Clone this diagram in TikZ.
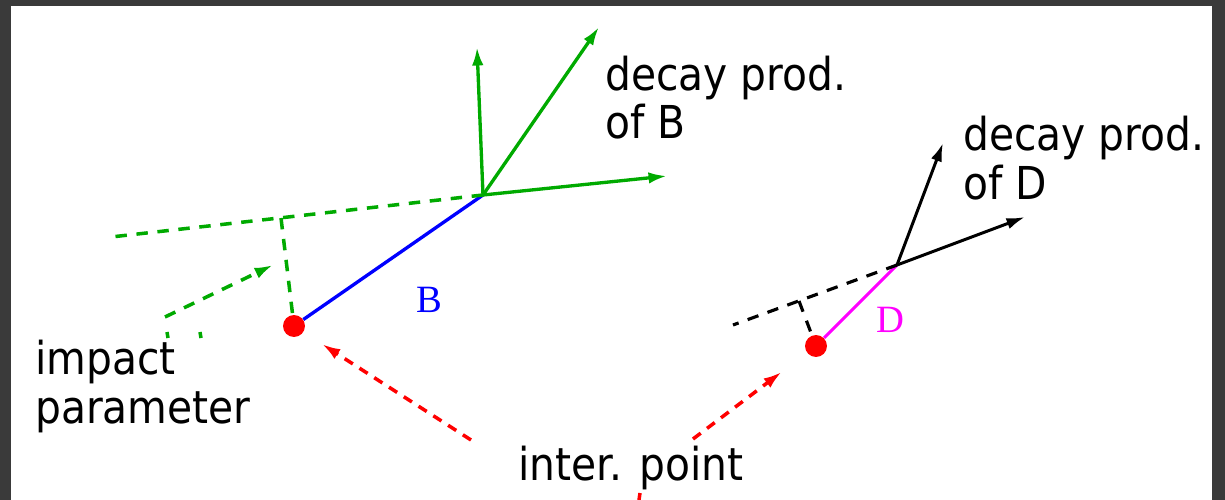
\documentclass[tikz,border=0pt]{standalone}
\usepackage{fontspec}
\usetikzlibrary{arrows.meta}
\IfFontExistsTF{DejaVu Sans Condensed}%
  {\newfontfamily\lblfont{DejaVu Sans Condensed}}%
  {\newfontfamily\lblfont{DejaVu Sans}}
\newfontfamily\trkfont{Liberation Serif}
\definecolor{trkgreen}{RGB}{0,170,0}
\definecolor{trkmagenta}{RGB}{255,0,255}
\definecolor{framegray}{RGB}{58,58,58}

\begin{document}
\begin{tikzpicture}[x=0.02cm, y=-0.02cm, >={Latex[length=10.5pt,width=6.5pt]},
    lbl/.style={inner sep=0pt, anchor=base west, align=left,
        font=\lblfont\fontsize{25.8}{27.8}\selectfont},
    trklbl/.style={inner sep=0pt, font=\trkfont\fontsize{22}{24}\selectfont},
    ipdot/.style={circle, fill=red, inner sep=0pt, minimum size=12.5pt},
    prodB/.style={->, trkgreen, line width=1.9pt},
    prodD/.style={->, black, line width=1.7pt},
    extrap/.style={line width=2pt, dash pattern=on 6.5pt off 5.5pt},
    ippointer/.style={->, red, line width=2pt, dash pattern=on 5.5pt off 4.5pt}]

    % --- FRAME ---
    \fill[framegray] (0,0) rectangle (1225,500);
    \fill[white] (11,6) rectangle (1212,500);
    \useasboundingbox (0,0) rectangle (1225,500);

    % --- B: interaction point, flight path, decay vertex ---
    \node[ipdot] (ipB) at (294,326) {};
    \coordinate (Bvtx) at (483,195);
    \draw[blue, line width=1.9pt] (ipB) -- (Bvtx);
    \node[trklbl, blue] (labB) at (429,300) {B};

    % --- DECAY PRODUCTS OF B ---
    \coordinate (Bp1) at (477,47);
    \coordinate (Bp2) at (599,27);
    \coordinate (Bp3) at (667,176);
    \draw[prodB] (Bvtx) -- (Bp1);
    \draw[prodB] (Bvtx) -- (Bp2);
    \draw[prodB] (Bvtx) -- (Bp3);

    % --- IMPACT PARAMETER OF B (extrapolated track) ---
    \coordinate (Bext) at (111,237);
    \coordinate (Bfoot) at (281,218);
    \draw[extrap, trkgreen] (Bvtx) -- (Bext);
    \draw[extrap, trkgreen] (Bfoot) -- (ipB);
    \coordinate (ipTail) at (165,317);
    \coordinate (ipTip) at (273,265);
    \draw[extrap, trkgreen, ->] (ipTail) -- (ipTip);
    \draw[trkgreen, line width=2pt] (167,332) -- (168,338);
    \draw[trkgreen, line width=2pt] (200,332) -- (201,338);

    % --- D: flight path, decay vertex ---
    \node[ipdot] (ipD) at (816,346) {};
    \coordinate (Dvtx) at (897,265);
    \draw[trkmagenta, line width=1.8pt] (ipD) -- (Dvtx);
    \node[trklbl, trkmagenta] (labD) at (890,320) {D};

    % --- DECAY PRODUCTS OF D ---
    \coordinate (Dp1) at (943,143);
    \coordinate (Dp2) at (1025,217);
    \draw[prodD] (Dvtx) -- (Dp1);
    \draw[prodD] (Dvtx) -- (Dp2);

    % --- IMPACT PARAMETER OF D ---
    \coordinate (Dext) at (733,325);
    \coordinate (Dfoot) at (799,301);
    \draw[extrap, black, line width=1.8pt] (Dvtx) -- (Dext);
    \draw[extrap, black, line width=1.8pt] (Dfoot) -- (ipD);

    % --- LABELS (anchored at the baseline of the last line) ---
    \node[lbl] (decB) at (605,139) {decay prod.\\of B};
    \node[lbl] (decD) at (963,199) {decay prod.\\of D};
    \node[lbl] (impact) at (35,423) {impact\\parameter};
    \node[lbl] (inter) at (518,480) {inter. point};

    % --- POINTERS TO THE INTERACTION POINTS ---
    \coordinate (interL) at (471,440);
    \coordinate (interR) at (693,439);
    \draw[ippointer, shorten >=12.5pt] (interL) -- (ipB);
    \draw[ippointer, shorten >=18pt] (interR) -- (ipD);
    \draw[red, line width=2pt] (640,493) -- (639,500);
\end{tikzpicture}
\end{document}
